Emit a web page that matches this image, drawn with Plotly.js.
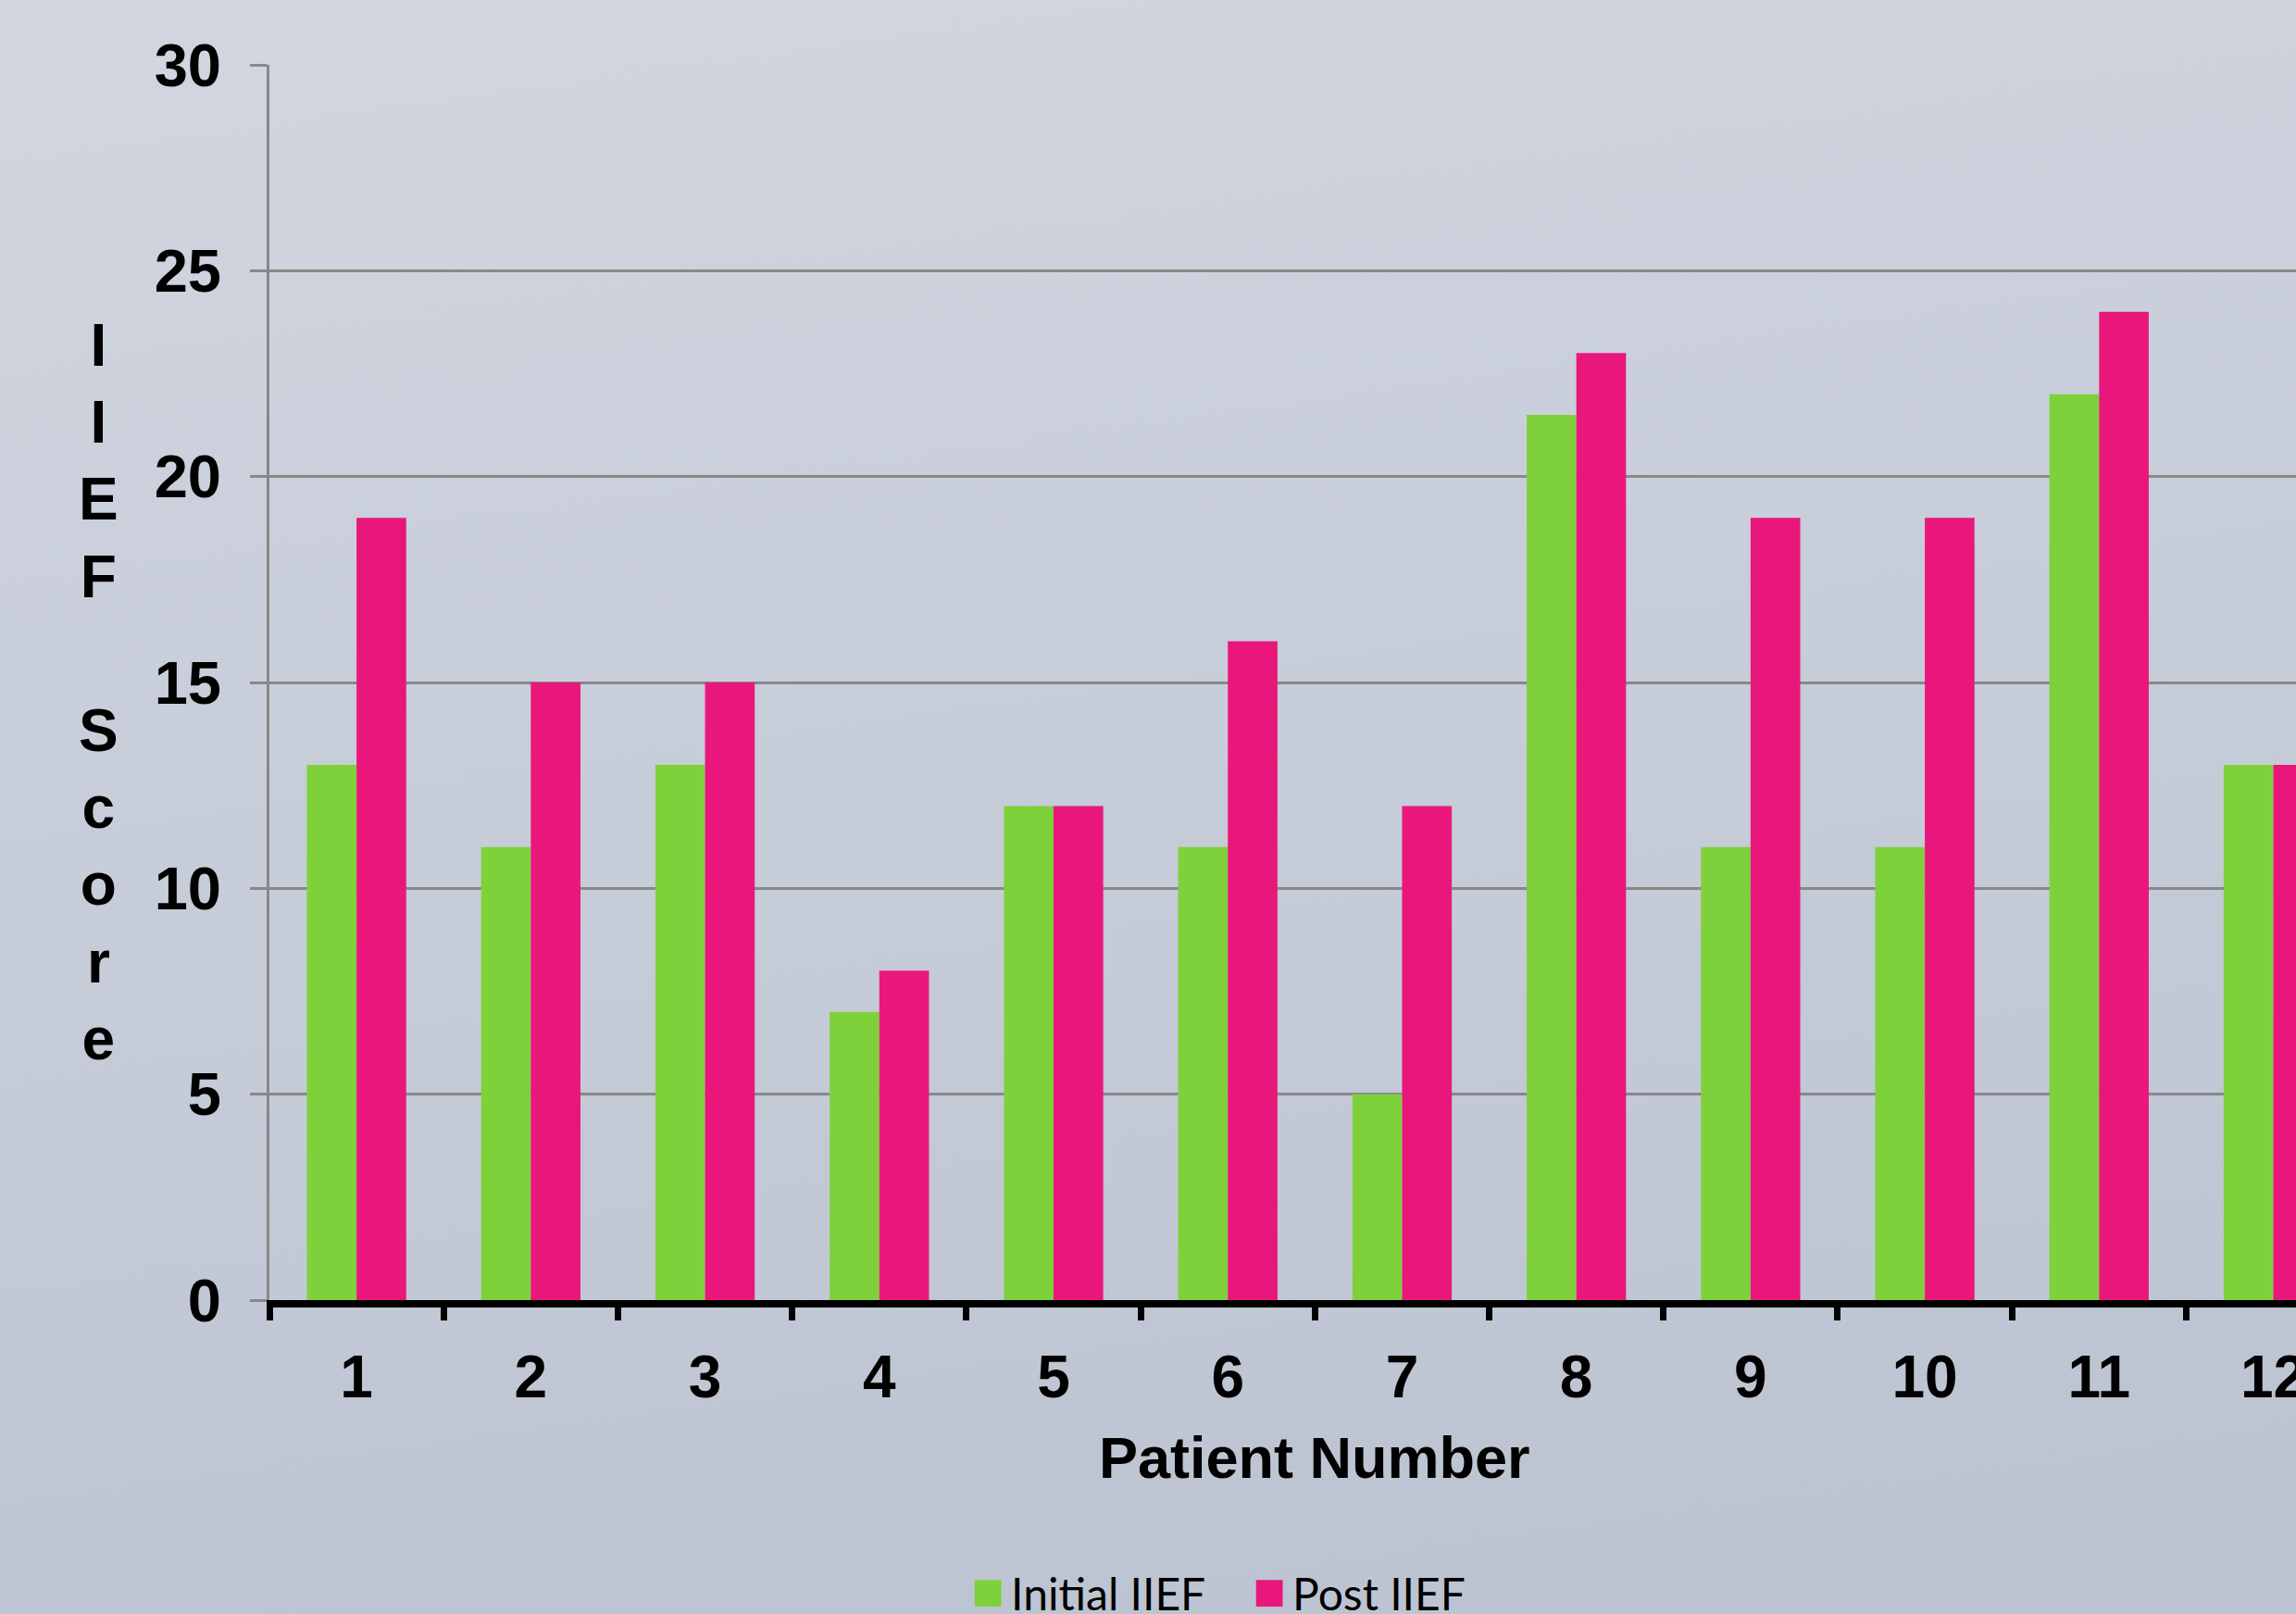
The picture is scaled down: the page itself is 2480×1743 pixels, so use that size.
<!DOCTYPE html>
<html>
<head>
<meta charset="utf-8">
<script src="https://cdn.plot.ly/plotly-3.0.1.min.js"></script>
<style>
  html, body { margin: 0; padding: 0; }
  body {
    width: 2480px; height: 1743px; overflow: hidden;
    background: linear-gradient(172deg, #d1d6e0 0%, #c6ccd8 50%, #bbc2d0 100%);
  }
  #chart { width: 2480px; height: 1743px; }
</style>
</head>
<body>
<div id="chart"></div>
<script>
const patients = ['1','2','3','4','5','6','7','8','9','10','11','12'];
const initialIIEF = [13, 11, 13, 7, 12, 11, 5, 21.5, 11, 11, 22, 13];
const postIIEF = [19, 15, 15, 8, 12, 16, 12, 23, 19, 19, 24, 13];
const yTicks = [0, 5, 10, 15, 20, 25, 30];
const seriesNames = ['Initial IIEF', 'Post IIEF'];
const seriesColors = ['#7fd13b', '#e9177b'];

const boldFont = 'Liberation Sans, Arial, sans-serif';

const traces = [
  { type: 'bar', name: seriesNames[0], x: patients, y: initialIIEF,
    marker: { color: seriesColors[0] } },
  { type: 'bar', name: seriesNames[1], x: patients, y: postIIEF,
    marker: { color: seriesColors[1] } }
];

const layout = {
  width: 2480, height: 1743,
  paper_bgcolor: 'rgba(0,0,0,0)',
  plot_bgcolor: 'rgba(0,0,0,0)',
  margin: { l: 291, r: 0, t: 70, b: 339, autoexpand: false },
  barmode: 'group',
  bargap: 0.43,
  bargroupgap: 0,
  showlegend: true,
  legend: {
    orientation: 'h', x: 0.482, xanchor: 'center', y: -0.2376, yanchor: 'middle',
    font: { family: 'Lato, sans-serif', size: 48, color: '#000' },
    bgcolor: 'rgba(0,0,0,0)', itemwidth: 40, traceorder: 'normal',
    entrywidth: 249, entrywidthmode: 'pixels'
  },
  xaxis: {
    type: 'category',
    range: [-0.5, 11.13],
    tickson: 'boundaries',
    ticks: 'outside', ticklen: 14, tickwidth: 7, tickcolor: '#000',
    showline: true, linecolor: '#000', linewidth: 8,
    showgrid: false, zeroline: false,
    tickfont: { family: boldFont, size: 64, color: '#000', weight: 'bold' },
    ticklabelstandoff: 20
  },
  yaxis: {
    range: [0, 30],
    tickvals: yTicks,
    ticktext: yTicks.map(String),
    ticks: 'outside', ticklen: 18, tickwidth: 3, tickcolor: '#888888',
    showline: true, linecolor: '#888888', linewidth: 3,
    showgrid: true, gridcolor: '#888888', gridwidth: 3,
    zeroline: false,
    tickfont: { family: boldFont, size: 65, color: '#000', weight: 'bold' },
    ticklabelstandoff: 18
  },
  annotations: [
    { text: '<b>Patient Number</b>', xref: 'x', yref: 'paper', x: 5.5, y: -0.1274,
      xanchor: 'center', yanchor: 'middle', showarrow: false,
      font: { family: boldFont, size: 63, color: '#000' } },
    { text: '<b>I<br>I<br>E<br>F<br> <br>S<br>c<br>o<br>r<br>e</b>', xref: 'paper', yref: 'paper',
      x: -0.0845, y: 0.4925, xanchor: 'center', yanchor: 'middle', showarrow: false,
      align: 'center',
      font: { family: boldFont, size: 64, color: '#000' } }
  ]
};

Plotly.newPlot('chart', traces, layout, { displayModeBar: false, staticPlot: true }).then(function () {
  document.querySelectorAll('.legend .legendpoints path').forEach(function (p) {
    const t = p.getAttribute('transform') || '';
    p.setAttribute('transform', t + ' scale(2.4)');
  });
});
</script>
</body>
</html>
